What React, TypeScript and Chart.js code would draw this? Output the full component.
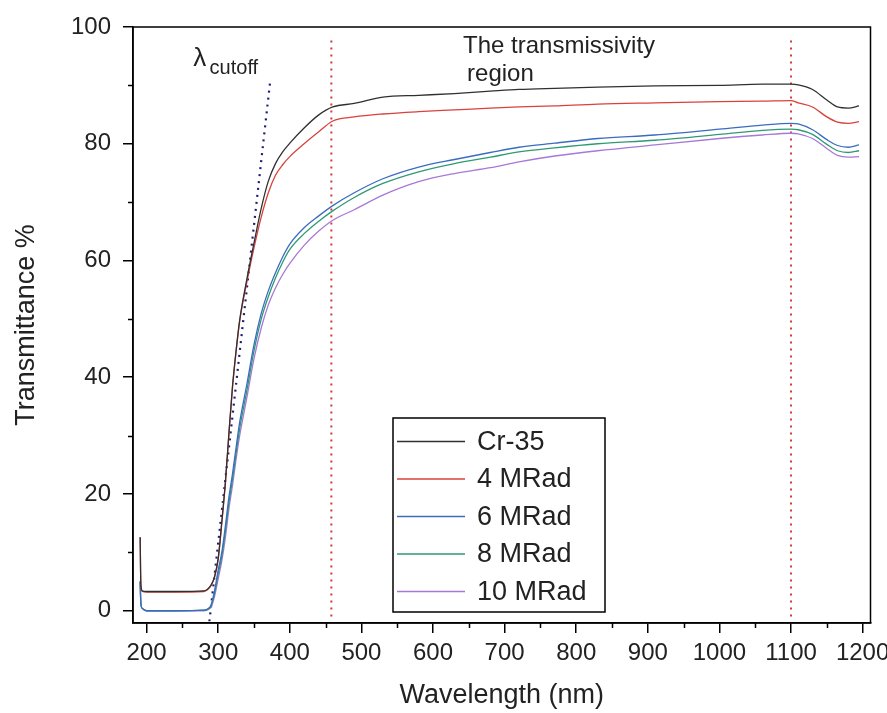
import React, { useEffect, useRef } from 'react';
import { Chart, registerables } from 'chart.js';

Chart.register(...registerables);

// ---------- data ----------
const WAVELENGTHS = [191, 192, 194, 200, 240, 280, 285, 290, 295, 300, 305, 310, 315, 320, 325, 330, 340, 350, 360, 370, 380, 390, 400, 420, 440, 460, 490, 530, 580, 630, 680, 720, 770, 830, 910, 1000, 1060, 1100, 1110, 1130, 1150, 1165, 1180, 1195];

const CR35 = [12.6, 4.4, 3.4, 3.3, 3.3, 3.4, 3.7, 4.4, 5.9, 9.0, 15.2, 22.0, 30.5, 38.5, 44.6, 49.8, 56.8, 63.0, 68.9, 73.6, 76.6, 78.6, 80.1, 82.7, 84.9, 86.3, 86.9, 88.0, 88.3, 88.6, 89.0, 89.3, 89.5, 89.7, 89.9, 90.0, 90.2, 90.2, 90.1, 89.3, 87.5, 86.3, 86.1, 86.5];
const MRAD4 = [12.6, 4.4, 3.3, 3.2, 3.2, 3.3, 3.6, 4.3, 5.8, 8.8, 15.0, 21.8, 30.3, 38.3, 44.4, 49.6, 56.3, 62.2, 67.4, 71.6, 74.6, 76.4, 77.8, 80.0, 82.0, 83.9, 84.6, 85.1, 85.5, 85.8, 86.1, 86.3, 86.5, 86.8, 87.0, 87.2, 87.3, 87.4, 87.0, 86.3, 84.6, 83.7, 83.5, 83.8];
const MRAD6 = [5.0, 1.2, 0.4, 0.0, 0.0, 0.1, 0.3, 1.0, 3.5, 7.0, 10.0, 14.5, 19.5, 23.5, 28.0, 32.3, 38.8, 45.6, 50.9, 54.8, 57.9, 60.6, 62.8, 65.6, 67.6, 69.4, 71.6, 74.0, 76.0, 77.3, 78.5, 79.4, 80.1, 80.9, 81.5, 82.5, 83.2, 83.5, 83.4, 82.4, 80.7, 79.7, 79.4, 79.8];
const MRAD8 = [5.0, 1.2, 0.4, 0.0, 0.0, 0.1, 0.2, 0.8, 3.0, 6.3, 9.3, 13.6, 18.5, 22.5, 27.0, 31.2, 37.7, 44.5, 49.9, 53.8, 57.0, 59.7, 61.9, 64.6, 66.7, 68.5, 70.8, 73.2, 75.2, 76.6, 77.7, 78.6, 79.3, 80.0, 80.6, 81.6, 82.3, 82.5, 82.4, 81.6, 79.9, 78.8, 78.5, 78.8];
const MRAD10 = [5.0, 1.2, 0.4, 0.0, 0.0, 0.0, 0.2, 0.6, 2.5, 5.5, 8.5, 12.5, 17.5, 21.5, 26.0, 30.0, 36.5, 43.2, 48.4, 52.4, 55.3, 57.6, 59.5, 62.6, 65.0, 66.9, 68.7, 71.2, 73.5, 74.9, 75.9, 76.9, 77.9, 78.8, 79.8, 80.9, 81.5, 81.8, 81.7, 80.9, 79.2, 78.0, 77.7, 77.8];

const SERIES_LABELS = ['Cr-35', '4 MRad', '6 MRad', '8 MRad', '10 MRad'];
const SERIES_COLORS = ['#303030', '#d8423c', '#3a6cc0', '#2e9a72', '#a878d8'];

// guide lines (annotation lines in data units)
const CUTOFF_X = [287.7, 372.5];
const CUTOFF_Y = [-1.8, 90.6];
const REGION_START_X = [458, 458];
const REGION_END_X = [1100, 1100];
const REGION_Y = [-1, 97.7];

// axes
const X_MIN = 181;
const X_MAX = 1211;
const Y_MIN = -2.1;
const Y_MAX = 100;
const X_TICKS = [200, 300, 400, 500, 600, 700, 800, 900, 1000, 1100, 1200];
const X_MINOR = [250, 350, 450, 550, 650, 750, 850, 950, 1050, 1150];
const Y_TICKS = [0, 20, 40, 60, 80, 100];
const Y_MINOR = [10, 30, 50, 70, 90];

const FONT = "'Liberation Sans', Arial, sans-serif";
const TEXT = '#222222';

function pts(xs: number[], ys: number[]) {
  return xs.map((x, i) => ({ x, y: ys[i] }));
}

const overlayPlugin = {
  id: 'overlay',
  afterDraw(chart: any) {
    const { ctx, chartArea: a, scales } = chart;
    const xs = scales.x;
    const ys = scales.y;
    ctx.save();
    // frame
    ctx.strokeStyle = '#000';
    ctx.lineWidth = 1.5;
    ctx.strokeRect(a.left, a.top, a.right - a.left, a.bottom - a.top);
    // minor ticks
    ctx.beginPath();
    X_MINOR.forEach((v) => {
      const px = Math.round(xs.getPixelForValue(v)) + 0.5;
      ctx.moveTo(px, a.bottom);
      ctx.lineTo(px, a.bottom + 5);
    });
    Y_MINOR.forEach((v) => {
      const py = Math.round(ys.getPixelForValue(v)) + 0.5;
      ctx.moveTo(a.left, py);
      ctx.lineTo(a.left - 5, py);
    });
    ctx.stroke();

    // annotation texts
    ctx.fillStyle = TEXT;
    ctx.textBaseline = 'alphabetic';
    ctx.textAlign = 'left';
    ctx.font = `26px ${FONT}`;
    ctx.fillText('λ', xs.getPixelForValue(265), ys.getPixelForValue(93.3));
    ctx.font = `20px ${FONT}`;
    ctx.fillText('cutoff', xs.getPixelForValue(288), ys.getPixelForValue(92.0));
    ctx.font = `24px ${FONT}`;
    ctx.fillText('The transmissivity', xs.getPixelForValue(642), ys.getPixelForValue(95.5));
    ctx.fillText('region', xs.getPixelForValue(647.6), ys.getPixelForValue(90.7));

    // legend
    const lx = a.left + 260;
    const ly = a.top + 391;
    const lw = 212;
    const lh = 194;
    ctx.fillStyle = '#fff';
    ctx.fillRect(lx, ly, lw, lh);
    ctx.strokeStyle = '#000';
    ctx.lineWidth = 1.5;
    ctx.strokeRect(lx, ly, lw, lh);
    ctx.font = `27px ${FONT}`;
    ctx.textBaseline = 'middle';
    const items = chart.data.datasets.filter((d: any) => SERIES_LABELS.includes(d.label));
    items.forEach((d: any, i: number) => {
      const cy = ly + 23.5 + i * 37.5;
      ctx.strokeStyle = d.borderColor;
      ctx.lineWidth = 1.3;
      ctx.beginPath();
      ctx.moveTo(lx + 4, cy);
      ctx.lineTo(lx + 72, cy);
      ctx.stroke();
      ctx.fillStyle = TEXT;
      ctx.fillText(d.label, lx + 84, cy + 1);
    });
    ctx.restore();
  },
};

export default function App() {
  const canvasRef = useRef<HTMLCanvasElement | null>(null);

  useEffect(() => {
    const canvas = canvasRef.current;
    if (!canvas) return;
    const seriesData = [CR35, MRAD4, MRAD6, MRAD8, MRAD10];
    const datasets: any[] = seriesData.map((vals, i) => ({
      label: SERIES_LABELS[i],
      data: pts(WAVELENGTHS, vals),
      borderColor: SERIES_COLORS[i],
      backgroundColor: SERIES_COLORS[i],
      borderWidth: 1.3,
      pointRadius: 0,
      fill: false,
      cubicInterpolationMode: 'monotone',
    }));
    datasets.push({
      label: 'cutoff',
      data: pts(CUTOFF_X, CUTOFF_Y),
      borderColor: '#1c1c7a',
      borderWidth: 2.2,
      borderDash: [2, 5],
      pointRadius: 0,
      fill: false,
    });
    datasets.push({
      label: 'region start',
      data: pts(REGION_START_X, REGION_Y),
      borderColor: '#d83a3a',
      borderWidth: 2,
      borderDash: [2, 5],
      pointRadius: 0,
      fill: false,
    });
    datasets.push({
      label: 'region end',
      data: pts(REGION_END_X, REGION_Y),
      borderColor: '#d83a3a',
      borderWidth: 2,
      borderDash: [2, 5],
      pointRadius: 0,
      fill: false,
    });

    const chart = new Chart(canvas, {
      type: 'line',
      data: { datasets },
      options: {
        animation: false,
        responsive: true,
        maintainAspectRatio: false,
        layout: { padding: { top: 27, right: 16.5, left: 0, bottom: 0 } },
        plugins: {
          legend: { display: false },
          tooltip: { enabled: false },
        },
        scales: {
          x: {
            type: 'linear',
            min: X_MIN,
            max: X_MAX,
            afterBuildTicks: (axis: any) => {
              axis.ticks = X_TICKS.map((v) => ({ value: v }));
            },
            afterFit: (scale: any) => {
              scale.height = 90;
              scale.paddingLeft = 0;
              scale.paddingRight = 0;
            },
            grid: {
              display: true,
              drawOnChartArea: false,
              drawTicks: true,
              tickLength: 10,
              color: '#000',
              lineWidth: 1.5,
            },
            border: { display: true, color: '#000', width: 1.5 },
            ticks: {
              color: TEXT,
              font: { family: FONT, size: 24 },
              padding: 6,
              maxRotation: 0,
              autoSkip: false,
              callback: (v: any) => String(v),
            },
            title: {
              display: true,
              text: 'Wavelength (nm)',
              color: TEXT,
              font: { family: FONT, size: 27 },
              padding: { top: 0, bottom: 1 },
            },
          },
          y: {
            type: 'linear',
            min: Y_MIN,
            max: Y_MAX,
            afterBuildTicks: (axis: any) => {
              axis.ticks = Y_TICKS.map((v) => ({ value: v }));
            },
            afterFit: (scale: any) => {
              scale.width = 133;
              scale.paddingTop = 0;
              scale.paddingBottom = 0;
            },
            grid: {
              display: true,
              drawOnChartArea: false,
              drawTicks: true,
              tickLength: 10,
              color: '#000',
              lineWidth: 1.5,
            },
            border: { display: true, color: '#000', width: 1.5 },
            ticks: {
              color: TEXT,
              font: { family: FONT, size: 24 },
              padding: 12,
              autoSkip: false,
              callback: (v: any) => String(v),
            },
            title: {
              display: true,
              text: 'Transmittance %',
              color: TEXT,
              font: { family: FONT, size: 27 },
              padding: { top: 10, bottom: 0 },
            },
          },
        },
      },
      plugins: [overlayPlugin],
    });
    return () => chart.destroy();
  }, []);

  return (
    <div style={{ position: 'fixed', left: 0, top: 0, width: 887, height: 713, background: '#fff' }}>
      <canvas ref={canvasRef} />
    </div>
  );
}
